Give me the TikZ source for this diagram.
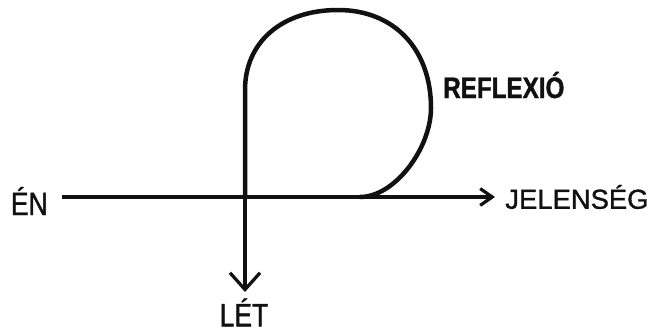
\documentclass[tikz,border=0pt]{standalone}
\usepackage{fontspec}
\usepackage{tikz}
\usetikzlibrary{arrows.meta}
\setmainfont{Liberation Sans}
\newfontfamily\narrowfont[FakeStretch=0.82,FakeBold=1.2]{Liberation Sans}
\newfontfamily\widefont[FakeBold=1.2]{Liberation Sans}
\definecolor{InkBlack}{HTML}{111111}

\begin{document}
\begin{tikzpicture}[x=0.025cm,y=0.025cm, every node/.style={inner sep=0pt, text=InkBlack},
    lbl/.style={font=\narrowfont\fontsize{23}{25}\selectfont},
    axis/.style={draw=InkBlack, line width=2.3pt},
    loopline/.style={draw=InkBlack, line width=3.2pt, line cap=round}]
  \useasboundingbox (0,0) rectangle (648,331);
  \node[lbl, anchor=base east] (en) at (48,116) {ÉN};
  \node[anchor=west, font=\widefont\fontsize{19.5}{21}\selectfont] (jel) at (505,134) {JELENSÉG};
  \node[anchor=base west, font=\narrowfont\bfseries\fontsize{21}{23}\selectfont] (refl) at (443,233) {REFLEXIÓ};
  \node[lbl, anchor=north] (let) at (244,33) {LÉT};
  \coordinate (touch) at (360,134);
  \coordinate (cross) at (245,134);
  \draw[axis, shorten <=0.35cm, shorten >=0.25cm, -{Straight Barb[length=0.3cm,width=0.42cm]}] (en.east |- jel.west) -- (jel.west);
  \draw[loopline] (touch) .. controls (395,134) and (431,183) .. (431,223)
    .. controls (431,282) and (394,321) .. (338,321)
    .. controls (282,321) and (245,289) .. (245,241) -- (cross);
  \draw[axis, shorten >=0.15cm, -{Straight Barb[length=0.42cm,width=0.75cm]}] (cross) -- (cross |- let.north);
\end{tikzpicture}
\end{document}
